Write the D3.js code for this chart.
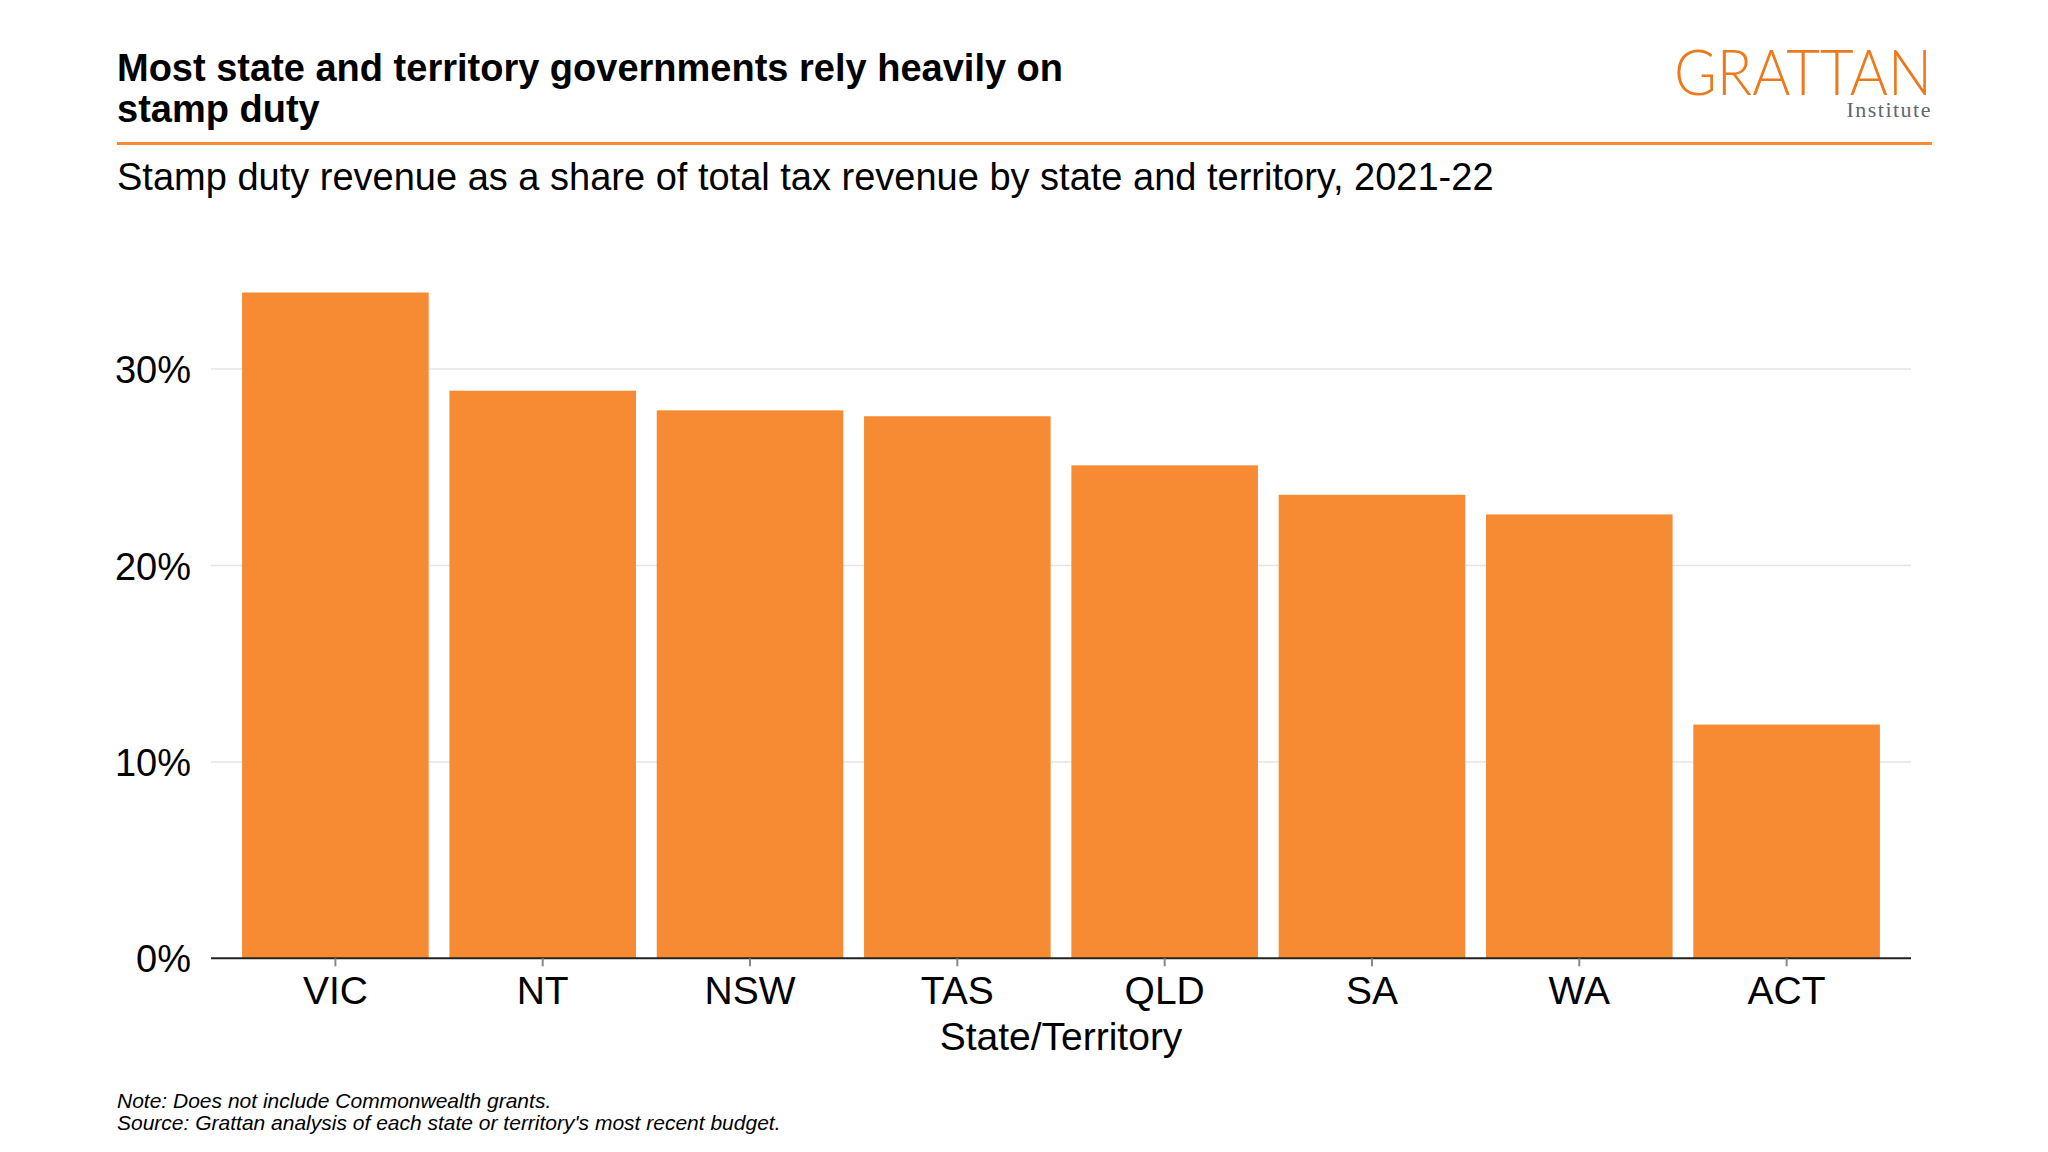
<!DOCTYPE html>
<html>
<head>
<meta charset="utf-8">
<script src="https://cdn.jsdelivr.net/npm/d3@7"></script>
<style>
  html, body { margin: 0; padding: 0; background: #fff; }
  svg { display: block; font-family: "Liberation Sans", Arial, sans-serif; }
</style>
</head>
<body>
<svg id="chart" width="2048" height="1152"></svg>
<script>
const categories = ["VIC", "NT", "NSW", "TAS", "QLD", "SA", "WA", "ACT"];
const values = [33.9, 28.9, 27.9, 27.6, 25.1, 23.6, 22.6, 11.9];
const yTicks = [0, 10, 20, 30];
const titleLines = ["Most state and territory governments rely heavily on", "stamp duty"];
const subtitle = "Stamp duty revenue as a share of total tax revenue by state and territory, 2021-22";
const xTitle = "State/Territory";
const notes = ["Note: Does not include Commonwealth grants.", "Source: Grattan analysis of each state or territory's most recent budget."];

const svg = d3.select("#chart");
const orange = "#F68B33";
const sans = "'Liberation Sans', Arial, sans-serif";

const plot = { left: 211, right: 1911, bottom: 958.3 };
const x = d3.scaleBand().domain(categories).range([plot.left, plot.right]).paddingInner(0.1).paddingOuter(0.15);
const y = d3.scaleLinear().domain([0, 35]).range([plot.bottom, plot.bottom - 35 * 19.64]);

// Title
const t = svg.append("text").attr("x", 117).attr("y", 81).style("font-family", sans)
  .attr("font-size", 38).attr("font-weight", "bold").attr("fill", "#000");
titleLines.forEach((l, i) => t.append("tspan").attr("x", 117).attr("dy", i === 0 ? 0 : 41).text(l));

// Orange rule
svg.append("line").attr("x1", 117).attr("x2", 1932).attr("y1", 143.5).attr("y2", 143.5).attr("stroke", orange).attr("stroke-width", 3);

// Logo
svg.append("text").attr("x", 1932).attr("y", 95).attr("text-anchor", "end")
  .style("font-family", "Lato, 'Open Sans', sans-serif").style("font-weight", 300)
  .attr("font-size", 63).attr("fill", "#EC7A1C")
  .attr("textLength", 258).attr("lengthAdjust", "spacingAndGlyphs").text("GRATTAN");
svg.append("text").attr("x", 1932).attr("y", 117).attr("text-anchor", "end")
  .style("font-family", "'Liberation Serif', 'DejaVu Serif', serif")
  .attr("font-size", 22).attr("fill", "#5d6770").attr("letter-spacing", 1.5).text("Institute");

// Subtitle
svg.append("text").attr("x", 117).attr("y", 190).style("font-family", sans)
  .attr("font-size", 38).attr("fill", "#000").text(subtitle);

// Gridlines
svg.append("g").selectAll("line").data(yTicks.filter(d => d > 0)).join("line")
  .attr("x1", plot.left).attr("x2", plot.right)
  .attr("y1", d => y(d)).attr("y2", d => y(d))
  .attr("stroke", "#e4e4e4").attr("stroke-width", 1.5);

// Bars
svg.append("g").selectAll("rect").data(categories).join("rect")
  .attr("x", d => x(d)).attr("width", x.bandwidth())
  .attr("y", (d, i) => y(values[i])).attr("height", (d, i) => y(0) - y(values[i]))
  .attr("fill", orange);

// Y axis labels
const yAxis = d3.axisLeft(y).tickValues(yTicks).tickFormat(d => d + "%").tickSize(0).tickPadding(20);
const yg = svg.append("g").attr("transform", `translate(${plot.left},0)`).call(yAxis);
yg.select(".domain").remove();
yg.selectAll("text").attr("font-size", 38).attr("fill", "#000").attr("dy", "0.36em")
  .style("font-family", sans);

// X axis
const xAxis = d3.axisBottom(x).tickSize(8).tickPadding(10);
const xg = svg.append("g").attr("transform", `translate(0,${plot.bottom})`).call(xAxis);
xg.select(".domain").attr("stroke", "#222").attr("stroke-width", 2).attr("d", `M${plot.left},0H${plot.right}`);
xg.selectAll(".tick line").attr("stroke", "#888").attr("stroke-width", 2);
xg.selectAll("text").attr("font-size", 39).attr("fill", "#000").attr("dy", "0.71em")
  .style("font-family", sans);

// X title
svg.append("text").attr("x", (plot.left + plot.right) / 2).attr("y", 1050).attr("text-anchor", "middle")
  .style("font-family", sans).attr("font-size", 39).attr("fill", "#000").text(xTitle);

// Notes
notes.forEach((n, i) => svg.append("text").attr("x", 117).attr("y", 1107.5 + i * 22)
  .style("font-family", sans).attr("font-size", 21).attr("font-style", "italic").attr("fill", "#000").text(n));
</script>
</body>
</html>
